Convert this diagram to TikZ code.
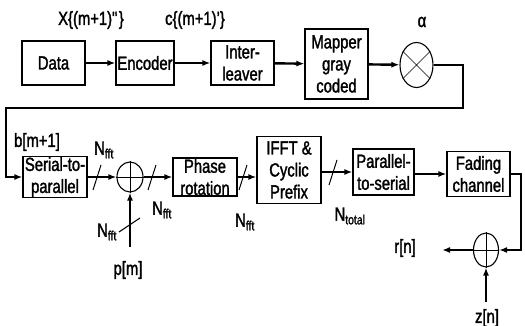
\documentclass[tikz,border=0pt]{standalone}
\usepackage{fontspec}
\setmainfont{Liberation Sans}[FakeStretch=0.78, FakeBold=1.6]
\usetikzlibrary{arrows.meta,positioning,shapes.geometric}

\begin{document}
\begin{tikzpicture}[x=1pt, y=-1pt,
    every node/.style={font=\fontsize{19}{22}\selectfont},
    blk/.style={draw, line width=1.1pt, align=center, inner sep=1pt},
    junc/.style={draw, ellipse, line width=1.1pt, inner sep=0pt},
    sig/.style={line width=2.4pt, -{Latex[length=8pt,width=6pt]}},
    tick/.style={line width=1pt}]
  \useasboundingbox (0,0) rectangle (525,326);
  % transmitter, top row
  \node[blk, minimum width=63pt, minimum height=44pt] (data) at (53.5,63) {Data};
  \node[blk, minimum width=58pt, minimum height=44pt] (enc) at (145,63) {Encoder};
  \node[blk, minimum width=63pt, minimum height=44pt] (intl) at (242.5,63) {Inter-\\leaver};
  \node[blk, minimum width=63pt, minimum height=70pt] (mapper) at (336.5,64) {Mapper\\gray\\coded};
  \node[junc, minimum width=33pt, minimum height=45pt] (mult) at (416.5,65) {};
  \draw[line width=0.6pt] (mult.45) -- (mult.225) (mult.135) -- (mult.315);
  \node (alpha) at (422,22) {α};
  \node (xlab) at (91,20) {X\{(m+1)\textquotedbl\}};
  \node (clab) at (195,20) {c\{(m+1)'\}};
  \draw[sig] (data) -- (enc);
  \draw[sig] (enc) -- (intl);
  \draw[sig] (intl) -- (mapper);
  \draw[sig] (mapper) -- (mult);
  % second row
  \node[blk, minimum width=64pt, minimum height=34pt] (sp) at (55,177) {Serial-to-\\parallel};
  \node[junc, minimum width=26pt, minimum height=30pt] (sum) at (130,177) {};
  \draw[line width=0.6pt] (sum.north) -- (sum.south) (sum.west) -- (sum.east);
  \node[blk, minimum width=64pt, minimum height=36pt] (phase) at (205,177) {Phase\\rotation};
  \node[blk, minimum width=64pt, minimum height=67pt] (ifft) at (289,170) {IFFT \&\\Cyclic\\Prefix};
  \node[blk, minimum width=61pt, minimum height=46pt] (ps) at (383.5,172) {Parallel-\\to-serial};
  \node[blk, minimum width=63pt, minimum height=45pt] (fade) at (478.5,174) {Fading\\channel};
  \node (blab) at (37,142) {b[m+1]};
  \draw[line width=2.2pt, -{Latex[length=8pt,width=6pt]}]
    (mult.east) -| (463,108) -| (6,177) -- (sp.west);
  \draw[sig] (sp.east) -- (sum.west);
  \draw[sig] (sum.east) -- (phase.west);
  \draw[sig] (phase.east) -- (ifft.west |- phase.east);
  \draw[sig] (ifft.east |- ps.west) -- (ps.west);
  \draw[sig] (ps.east |- fade.west) -- (fade.west);
  % pilot input
  \coordinate (pin) at (130,247);
  \draw[sig] (pin) -- (sum.south);
  \node (plab) at (128,270) {p[m]};
  % bus widths
  \draw[tick] (93,190) -- (101,165);
  \draw[tick] (148,190) -- (156,165);
  \draw[tick] (239,190) -- (247,165);
  \draw[tick] (329,185) -- (337,160);
  \draw[tick] (119,232) -- (140,218);
  \node (n1) at (104,150) {N\textsubscript{fft}};
  \node (n2) at (162,210) {N\textsubscript{fft}};
  \node (n3) at (245,222) {N\textsubscript{fft}};
  \node (n4) at (107,232) {N\textsubscript{fft}};
  \node (n5) at (350,216) {N\textsubscript{total}};
  % receiver noise
  \node[junc, minimum width=25pt, minimum height=34pt] (sum2) at (486,250) {};
  \draw[line width=0.6pt] (sum2.north) -- (sum2.south) (sum2.west) -- (sum2.east);
  \draw[sig] (fade.east) -| (521,250) -- (sum2.east);
  \coordinate (rout) at (442,250);
  \coordinate (zin) at (486,302);
  \draw[sig] (sum2.west) -- (rout);
  \draw[sig] (zin) -- (sum2.south);
  \node (rlab) at (405,248) {r[n]};
  \node (zlab) at (487,318) {z[n]};
\end{tikzpicture}
\end{document}
